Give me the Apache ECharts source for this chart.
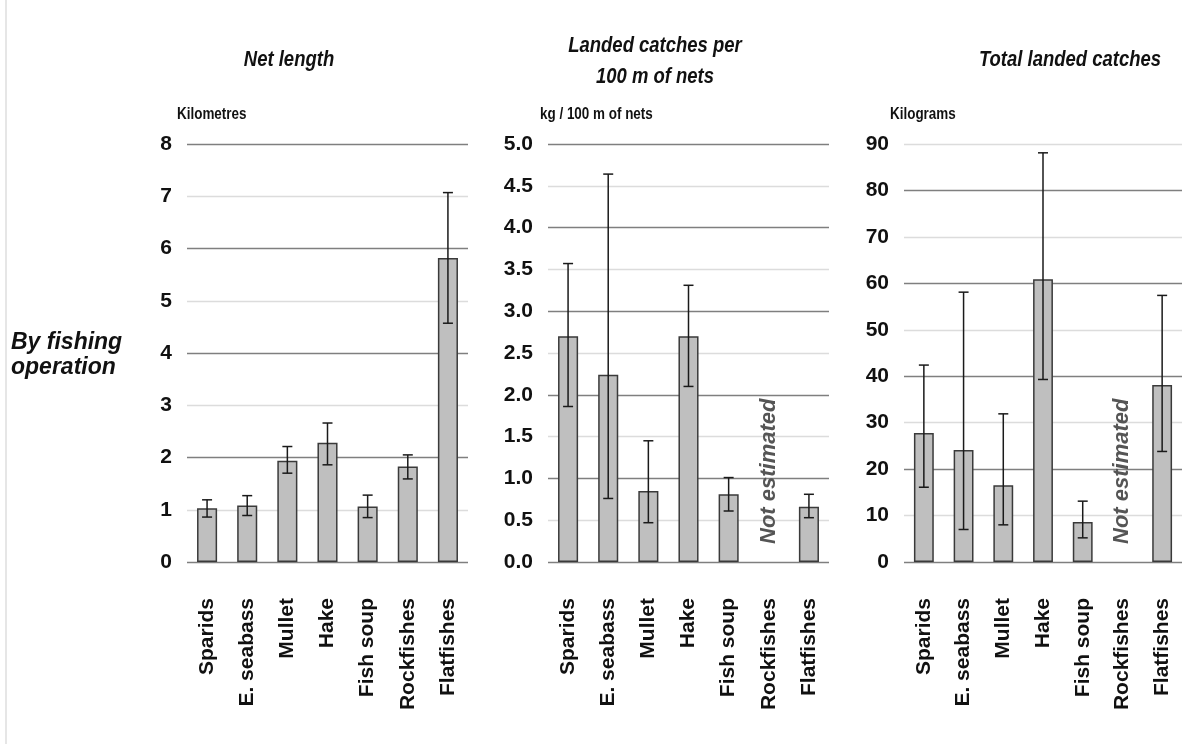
<!DOCTYPE html>
<html><head><meta charset="utf-8">
<script src="https://cdn.jsdelivr.net/npm/echarts@6/dist/echarts.min.js"></script>
<style>html,body{margin:0;padding:0;background:#fff}#c{width:1182px;height:744px}</style>
</head><body><div id="c"></div>
<script>
const categories = ['Sparids','E. seabass','Mullet','Hake','Fish soup','Rockfishes','Flatfishes'];

const netLength     = [1.03, 1.08, 1.94, 2.28, 1.06, 1.83, 5.82];
const netLengthLow  = [0.86, 0.89, 1.70, 1.86, 0.85, 1.59, 4.57];
const netLengthHigh = [1.19, 1.27, 2.21, 2.66, 1.28, 2.05, 7.07];

const cpue     = [2.70, 2.24, 0.85, 2.70, 0.81, null, 0.66];
const cpueLow  = [1.86, 0.76, 0.47, 2.10, 0.61, null, 0.53];
const cpueHigh = [3.57, 4.64, 1.45, 3.31, 1.01, null, 0.81];

const totalCatch     = [27.8, 24.1, 16.5, 60.9, 8.6, null, 38.1];
const totalCatchLow  = [16.1,  7.0,  8.0, 39.3, 5.2, null, 23.8];
const totalCatchHigh = [42.4, 58.1, 31.9, 88.1, 13.1, null, 57.4];

const notEstimated = ['Rockfishes'];

const panelTitles = ['Net length', 'Landed catches per\n100 m of nets', 'Total landed catches'];
const unitLabels = ['Kilometres', 'kg / 100 m of nets', 'Kilograms'];
const rowLabel = 'By fishing\noperation';
const yMax = [8, 5, 90];
const yStep = [1, 0.5, 10];

const FONT = '"Liberation Sans", Arial, sans-serif';
const chart = echarts.init(document.getElementById('c'));

const gridLefts = [187, 548, 904];
const grids = gridLefts.map(l => ({left: l, top: 144, width: 281, height: 418}));

const xAxes = grids.map((g, i) => ({
  type: 'category', gridIndex: i, data: categories,
  axisLine: {show: false}, axisTick: {show: false},
  axisLabel: {rotate: 90, margin: 36, color: '#111', fontFamily: FONT, fontWeight: 'bold', fontSize: 21, interval: 0}
}));
const yAxes = grids.map((g, i) => ({
  type: 'value', gridIndex: i, min: 0, max: yMax[i], interval: yStep[i],
  axisLine: {show: false}, axisTick: {show: false},
  axisLabel: {margin: 15, color: '#111', fontFamily: FONT, fontWeight: 'bold', fontSize: 21,
    formatter: v => i === 1 ? v.toFixed(1) : String(v)},
  splitLine: {show: true, lineStyle: {color: ['#7f7f7f', '#dcdcdc'], width: 1.3}}
}));

function bars(idx, vals) {
  return {type: 'bar', xAxisIndex: idx, yAxisIndex: idx, data: vals.map(v => v == null ? '-' : v),
    barWidth: '50%', itemStyle: {color: '#bfbfbf', borderColor: '#3a3a3a', borderWidth: 1.5}, silent: true};
}
function errs(idx, lo, hi) {
  const data = [];
  categories.forEach((c, i) => { if (lo[i] != null) data.push([i, lo[i], hi[i]]); });
  return {type: 'custom', xAxisIndex: idx, yAxisIndex: idx, z: 10, silent: true, data,
    encode: {x: 0, y: [1, 2]},
    renderItem(params, api) {
      const a = api.coord([api.value(0), api.value(1)]);
      const b = api.coord([api.value(0), api.value(2)]);
      const hw = 5, st = {stroke: '#1a1a1a', lineWidth: 1.5};
      return {type: 'group', children: [
        {type: 'line', shape: {x1: a[0], y1: a[1], x2: b[0], y2: b[1]}, style: st},
        {type: 'line', shape: {x1: a[0]-hw, y1: a[1], x2: a[0]+hw, y2: a[1]}, style: st},
        {type: 'line', shape: {x1: b[0]-hw, y1: b[1], x2: b[0]+hw, y2: b[1]}, style: st}
      ]};
    }};
}
function notes(idx) {
  return {type: 'custom', xAxisIndex: idx, yAxisIndex: idx, z: 11, silent: true,
    data: notEstimated.map(c => [categories.indexOf(c), 0]),
    renderItem(params, api) {
      const p = api.coord([api.value(0), 0]);
      return {type: 'text', x: p[0], y: p[1] - 18, rotation: Math.PI / 2,
        style: {text: 'Not estimated', align: 'left', verticalAlign: 'middle',
          font: 'italic bold 22px ' + FONT, fill: '#555555'}};
    }};
}

// condensed (narrow-looking) text
function ctext(text, x, y, font, align, lh) {
  return {type: 'text', x, y, scaleX: 0.84, silent: true,
    style: {text, font, fill: '#111', align, verticalAlign: 'middle', lineHeight: lh}};
}
const TFONT = 'italic bold 22px ' + FONT;
const UFONT = 'bold 16px ' + FONT;

chart.setOption({
  animation: false,
  backgroundColor: '#fff',
  title: [
    {text: rowLabel, left: 6, top: 325, textStyle: {fontFamily: FONT, fontWeight: 'bold', fontStyle: 'italic', fontSize: 23, color: '#111', lineHeight: 25}}
  ],
  graphic: [
    {type: 'line', shape: {x1: 6, y1: 0, x2: 6, y2: 744}, style: {stroke: '#e6e6e6', lineWidth: 2}},
    ctext(panelTitles[0], 289, 60, TFONT, 'center', 31),
    ctext(panelTitles[1], 655, 61, TFONT, 'center', 31),
    ctext(panelTitles[2], 1070, 60, TFONT, 'center', 31),
    ctext(unitLabels[0], 177, 115, UFONT, 'left', 18),
    ctext(unitLabels[1], 540, 115, UFONT, 'left', 18),
    ctext(unitLabels[2], 890, 115, UFONT, 'left', 18)
  ],
  grid: grids, xAxis: xAxes, yAxis: yAxes,
  series: [
    bars(0, netLength), errs(0, netLengthLow, netLengthHigh),
    bars(1, cpue), errs(1, cpueLow, cpueHigh), notes(1),
    bars(2, totalCatch), errs(2, totalCatchLow, totalCatchHigh), notes(2)
  ]
});
</script></body></html>
